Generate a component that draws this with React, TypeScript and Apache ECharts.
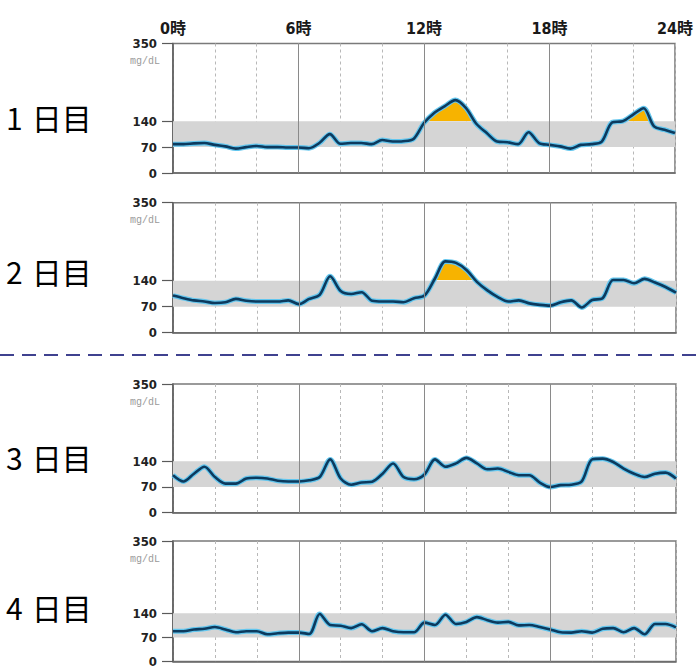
import React, { useEffect, useRef } from "react";
import * as echarts from "echarts";

// ---- data ----
const HOURS = Array.from({ length: 49 }, (_, i) => i / 2); // 0..24 h, every 30 min
const DAY_LABELS = ["1日目", "2日目", "3日目", "4日目"];
const Y_TICKS = [0, 70, 140, 350];
const TARGET_LOW = 70;
const TARGET_HIGH = 140;
const MAJOR_HOURS = [6, 12, 18];

const DAY1 = [78, 78, 80, 81, 76, 72, 66, 70, 73, 70, 70, 69, 69, 67, 81, 105, 79, 81, 81, 78, 89, 85, 86, 92, 135, 163, 181, 197, 176, 133, 108, 85, 83, 78, 110, 81, 76, 72, 66, 76, 78, 85, 137, 140, 158, 175, 126, 117, 108];
const DAY2 = [100, 93, 87, 84, 80, 82, 91, 86, 84, 84, 84, 87, 77, 91, 102, 152, 112, 104, 109, 86, 84, 84, 82, 93, 100, 146, 192, 188, 169, 137, 114, 96, 84, 87, 79, 75, 73, 82, 87, 68, 88, 93, 142, 142, 133, 145, 135, 123, 108];
const DAY3 = [102, 85, 106, 125, 97, 79, 79, 93, 95, 93, 87, 85, 85, 88, 97, 145, 93, 76, 82, 84, 106, 134, 97, 91, 104, 145, 125, 134, 149, 134, 118, 120, 111, 102, 102, 82, 70, 75, 76, 85, 145, 147, 138, 120, 106, 97, 106, 109, 93];
const DAY4 = [88, 88, 93, 95, 100, 93, 85, 88, 88, 79, 82, 84, 84, 80, 138, 106, 104, 97, 108, 88, 97, 88, 85, 85, 113, 106, 136, 109, 115, 129, 120, 113, 115, 105, 106, 100, 93, 85, 84, 88, 84, 95, 97, 85, 97, 79, 109, 109, 99];
const DAYS = [DAY1, DAY2, DAY3, DAY4];
const HIGHLIGHT_DAYS = [true, true, false, false];

// ---- layout ----
const W = 696;
const H = 668;
const GRID_LEFT = 173;
const GRID_RIGHT = 20;
const PANELS = [
  { top: 43.5, height: 129.5, labelY: 117 },
  { top: 202.7, height: 130, labelY: 271 },
  { top: 384, height: 128.7, labelY: 457 },
  { top: 541, height: 130, labelY: 607 },
];
const NUM_FONT = "'DejaVu Sans Condensed', 'Noto Sans CJK JP', sans-serif";
const JP_FONT = "'Noto Sans CJK JP', sans-serif";

export default function App() {
  const ref = useRef<HTMLDivElement>(null);

  useEffect(() => {
    if (!ref.current) return;
    const chart = echarts.init(ref.current, null, { renderer: "svg" });

    const grid = PANELS.map((p) => ({
      left: GRID_LEFT,
      right: GRID_RIGHT,
      top: p.top,
      height: p.height,
      show: true,
      borderColor: "#7a7a7a",
      borderWidth: 1.5,
      backgroundColor: "#fff",
    }));

    const xAxis: any[] = PANELS.map((_, i) => ({
      type: "value",
      gridIndex: i,
      min: 0,
      max: 24,
      interval: 2,
      axisLine: { show: true, lineStyle: { color: "#6a6a6a", width: 1.5 } },
      axisTick: { show: false },
      axisLabel: { show: false },
      splitLine: { show: true, lineStyle: { color: "#b8b8b8", type: [3, 3], width: 1 } },
    }));
    xAxis.push({
      type: "value",
      gridIndex: 0,
      position: "top",
      min: 0,
      max: 24,
      interval: 6,
      axisLine: { show: false },
      axisTick: { show: false },
      splitLine: { show: false },
      axisLabel: {
        show: true,
        margin: 7,
        fontSize: 16,
        fontWeight: "bold",
        color: "#1a1a1a",
        fontFamily: NUM_FONT,
        formatter: (v: number) => `${v}時`,
      },
    });

    const yAxis = PANELS.map((_, i) => ({
      type: "value",
      gridIndex: i,
      min: 0,
      max: 350,
      axisLine: { show: true, lineStyle: { color: "#5a5a5a", width: 1.5 } },
      axisTick: { show: true, length: 11, customValues: Y_TICKS, lineStyle: { color: "#5a5a5a", width: 1.2 } },
      axisLabel: {
        show: true,
        customValues: Y_TICKS,
        margin: 16,
        fontSize: 13,
        fontWeight: "bold",
        color: "#222",
        fontFamily: NUM_FONT,
      },
      splitLine: { show: false },
    }));

    const series: any[] = [];
    const fillIdx: number[] = [];
    DAYS.forEach((day, i) => {
      const pts = day.map((v, k) => [HOURS[k], v]);
      series.push({
        type: "line",
        xAxisIndex: i,
        yAxisIndex: i,
        data: pts,
        z: 1,
        silent: true,
        showSymbol: false,
        symbol: "none",
        lineStyle: { opacity: 0, width: 0 },
        markArea: {
          silent: true,
          itemStyle: { color: "#d5d5d5" },
          data: [[{ yAxis: TARGET_LOW }, { yAxis: TARGET_HIGH }]],
        },
        markLine: {
          silent: true,
          symbol: "none",
          label: { show: false },
          lineStyle: { color: "#8a8a8a", type: "solid", width: 1 },
          data: MAJOR_HOURS.map((h) => ({ xAxis: h })),
        },
      });
      if (HIGHLIGHT_DAYS[i]) {
        fillIdx.push(series.length);
        series.push({
          type: "line",
          xAxisIndex: i,
          yAxisIndex: i,
          data: pts,
          z: 2,
          silent: true,
          smooth: 0.3,
          showSymbol: false,
          symbol: "none",
          lineStyle: { opacity: 0, width: 0 },
          areaStyle: { origin: TARGET_HIGH, opacity: 1 },
        });
      }
      series.push({
        type: "line",
        xAxisIndex: i,
        yAxisIndex: i,
        data: pts,
        z: 3,
        silent: true,
        smooth: 0.3,
        showSymbol: false,
        symbol: "none",
        lineStyle: { color: "#63c6ee", width: 5 },
      });
      series.push({
        type: "line",
        xAxisIndex: i,
        yAxisIndex: i,
        data: pts,
        z: 4,
        silent: true,
        smooth: 0.3,
        showSymbol: false,
        symbol: "none",
        lineStyle: { color: "#0c3a5e", width: 2.6 },
      });
    });

    const graphic: any[] = [];
    PANELS.forEach((p, i) => {
      const label = DAY_LABELS[i];
      graphic.push({
        type: "text",
        x: 6,
        y: p.labelY,
        silent: true,
        style: {
          text: `{d|${label.slice(0, 1)}}{k|${label.slice(1)}}`,
          verticalAlign: "middle",
          rich: {
            d: { fontSize: 30, fontFamily: JP_FONT, color: "#111", padding: [0, 9, 0, 0] },
            k: { fontSize: 30, fontFamily: JP_FONT, color: "#111" },
          },
        },
      });
      graphic.push({
        type: "text",
        x: 160,
        y: p.top + 18,
        silent: true,
        style: {
          text: "mg/dL",
          align: "right",
          verticalAlign: "middle",
          fontSize: 10,
          fontFamily: "'Liberation Mono', monospace",
          fill: "#9a9a9a",
        },
      });
    });
    graphic.push({
      type: "line",
      silent: true,
      shape: { x1: 0, y1: 355, x2: W, y2: 355 },
      style: { stroke: "#3f418f", lineWidth: 2, lineDash: [14, 8] },
    });

    chart.setOption({
      animation: false,
      backgroundColor: "#fff",
      grid,
      xAxis,
      yAxis,
      visualMap: [
        {
          type: "piecewise",
          show: false,
          dimension: 1,
          seriesIndex: fillIdx,
          pieces: [
            { gt: TARGET_HIGH + 1.5, lte: 1000, color: "#f7b300" },
            { gte: -1000, lte: TARGET_HIGH + 1.5, color: "rgba(255,255,255,0)" },
          ],
        },
      ],
      series,
      graphic,
    });

    return () => chart.dispose();
  }, []);

  return (
    <div
      ref={ref}
      style={{ position: "fixed", left: 0, top: 0, width: W, height: H, background: "#fff" }}
    />
  );
}
